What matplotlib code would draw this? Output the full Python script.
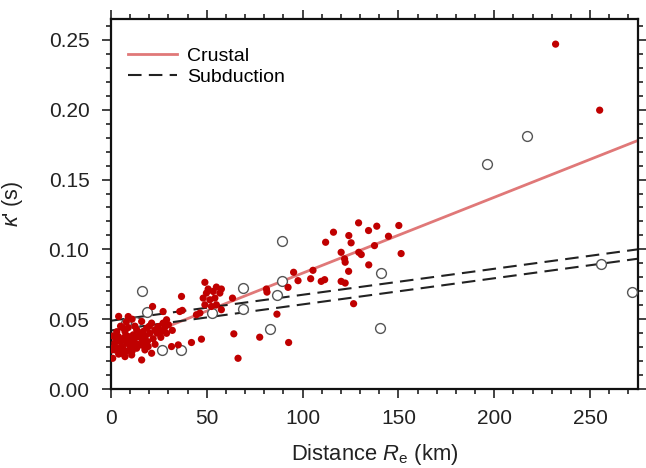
import matplotlib
matplotlib.use("Agg")
import matplotlib.pyplot as plt
from matplotlib.ticker import MultipleLocator
import numpy as np

plt.rcParams['font.family'] = ['Liberation Sans', 'DejaVu Sans']
plt.rcParams['mathtext.fontset'] = 'custom'
plt.rcParams['mathtext.rm'] = 'Liberation Sans'
plt.rcParams['mathtext.it'] = 'Liberation Sans:italic'
plt.rcParams['mathtext.bf'] = 'Liberation Sans:bold'

# Crustal records (filled red)
crustal_dist = [
    0.9, 2.1, 3.8, 4.7, 6.4, 8.2, 9.9, 11.6, 13.4, 15.1, 16.8, 16.0, 7.3, 10.8, 5.6,
    3.8, 9.0, 11.6, 14.2, 7.3, 13.4, 16.8, 20.3, 22.9, 24.6, 26.4, 29.0, 21.2, 27.2,
    29.0, 18.6, 21.2, 19.4, 17.7, 9.0, 16.0, 21.7, 27.2, 35.9, 35.1, 31.6,
    1.5, 2.5, 3.0, 4.0, 5.0, 6.0, 7.0, 8.0, 9.0, 10.0, 11.0, 12.0, 12.5, 13.0, 14.0,
    15.0, 16.0, 17.0, 18.0, 19.0, 20.0, 22.0, 23.0, 24.0, 26.0, 28.0, 30.0, 32.0,
    8.0, 6.0, 2.0, 1.0, 0.5, 11.0, 4.0,
    49.0, 50.7, 55.0, 57.6, 49.8, 53.3, 56.8, 48.1, 51.6, 54.2, 49.0, 52.4, 55.0, 57.6,
    46.4, 44.6, 63.4, 36.8, 37.2, 42.0, 47.2, 64.1, 66.3, 77.6, 86.6, 92.7, 81.1, 81.4,
    92.4, 95.3, 97.6, 104.2, 105.4, 109.7, 111.5, 120.1, 122.2, 124.0, 126.6, 120.1,
    121.9, 122.2, 125.3, 124.1, 116.1, 112.0, 129.2, 134.4, 138.7, 134.5, 137.5, 129.3,
    130.6, 144.8, 150.2, 151.4, 232.0, 255.0,
]
crustal_kappa = [
    0.0220, 0.0280, 0.0292, 0.0340, 0.0352, 0.0328, 0.0304, 0.0316, 0.0292, 0.0316, 0.0328,
    0.0208, 0.0232, 0.0244, 0.0256,
    0.0376, 0.0376, 0.0388, 0.0376, 0.0412, 0.0424, 0.0412, 0.0399, 0.0424, 0.0447, 0.0412,
    0.0399, 0.0472, 0.0472, 0.0496, 0.0436, 0.0256, 0.0304, 0.0280, 0.0519, 0.0484, 0.0591,
    0.0555, 0.0555, 0.0316, 0.0304,
    0.0300, 0.0360, 0.0410, 0.0250, 0.0450, 0.0300, 0.0370, 0.0270, 0.0440, 0.0350, 0.0270,
    0.0340, 0.0450, 0.0370, 0.0320, 0.0400, 0.0360, 0.0310, 0.0380, 0.0340, 0.0450, 0.0360,
    0.0320, 0.0400, 0.0370, 0.0440, 0.0460, 0.0420,
    0.0480, 0.0440, 0.0330, 0.0380, 0.0280, 0.0500, 0.0520,
    0.0764, 0.0716, 0.0730, 0.0716, 0.0687, 0.0699, 0.0687, 0.0651, 0.0639, 0.0651, 0.0603,
    0.0591, 0.0603, 0.0568, 0.0544, 0.0532, 0.0651, 0.0663, 0.0563, 0.0333, 0.0357, 0.0395,
    0.0220, 0.0371, 0.0536, 0.0333, 0.0716, 0.0694, 0.0728, 0.0836, 0.0776, 0.0790, 0.0850,
    0.0771, 0.0783, 0.0771, 0.0759, 0.0843, 0.0611, 0.0979, 0.0932, 0.0908, 0.1047, 0.1099,
    0.1123, 0.1051, 0.1190, 0.1135, 0.1166, 0.0889, 0.1027, 0.0979, 0.0963, 0.1094, 0.1171,
    0.0970, 0.2470, 0.1997,
]

# Subduction records (open circles)
subduction_dist = [4.0, 8.0, 13.0, 16.0, 19.0, 26.5, 36.5, 52.5, 69.0, 69.0, 83.0,
                   86.5, 89.5, 89.5, 141.0, 140.5, 196.0, 217.0, 255.5, 272.0]
subduction_kappa = [0.030, 0.047, 0.048, 0.070, 0.055, 0.028, 0.028, 0.0546, 0.0725,
                    0.0575, 0.043, 0.0675, 0.077, 0.106, 0.083, 0.044, 0.161, 0.181,
                    0.0898, 0.0697]

# Regression lines: (intercept, slope per km)
crustal_fit = (0.0287, 0.000543)
subduction_fits = [(0.0489, 0.000186), (0.0419, 0.000187)]

x_max = 275
y_max = 0.265

fig = plt.figure(figsize=(6.46, 4.68), dpi=100)
ax = fig.add_axes([0.1718, 0.1688, 0.8158, 0.7906])

xl = np.array([0, x_max])
ax.plot(xl, crustal_fit[0] + crustal_fit[1] * xl, color='#e07878', lw=2.0,
        zorder=2, label='Crustal')
for i, (b, m) in enumerate(subduction_fits):
    ax.plot(xl, b + m * xl, color='#222222', lw=1.5, ls=(0, (6.5, 3.5)), zorder=2,
            label='Subduction' if i == 0 else None)

ax.scatter(subduction_dist, subduction_kappa, s=50, facecolors='white',
           edgecolors='#555555', linewidths=1.0, zorder=3)
ax.scatter(crustal_dist, crustal_kappa, s=27, color='#c00000', edgecolors='none',
           zorder=4)

ax.set_xlim(0, x_max)
ax.set_ylim(0, y_max)
ax.xaxis.set_major_locator(MultipleLocator(50))
ax.xaxis.set_minor_locator(MultipleLocator(10))
ax.yaxis.set_major_locator(MultipleLocator(0.05))
ax.yaxis.set_minor_locator(MultipleLocator(0.01))
ax.yaxis.set_major_formatter(plt.FuncFormatter(lambda v, p: f"{v:.2f}"))
ax.tick_params(which='both', direction='out', top=True, right=True,
               labelsize=15, width=1.2, colors='#222222', labelcolor='#222222')
ax.tick_params(which='major', length=6.5, pad=8)
ax.tick_params(axis='y', which='major', pad=9)
ax.tick_params(which='minor', length=3.5)
for s in ax.spines.values():
    s.set_linewidth(1.6)
    s.set_color('#111111')

ax.set_xlabel(r"Distance $\mathit{R}_{\mathrm{e}}$ (km)", fontsize=15.8, color='#222222')
ax.set_ylabel(r"$\mathit{\kappa}$' (s)", fontsize=15.5, color='#222222')
ax.xaxis.set_label_coords(0.5, -0.143)
ax.yaxis.set_label_coords(-0.163, 0.5)

leg = ax.legend(loc='upper left', frameon=False, fontsize=14, handlelength=2.5,
                handletextpad=0.5, labelspacing=0.15, borderaxespad=0.5,
                bbox_to_anchor=(0.0, 0.97))

fig.savefig('out.png', dpi=100)
